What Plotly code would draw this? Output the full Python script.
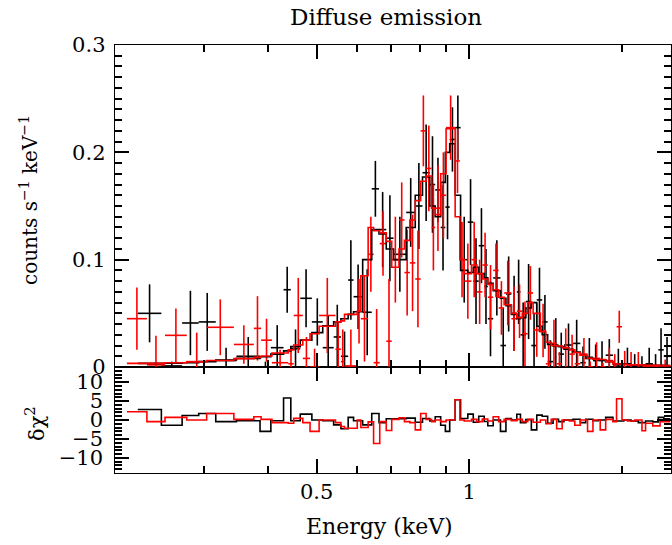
import numpy as np
import plotly.graph_objects as go

# ---------------- data (energies in keV, rates in counts/s/keV) ----------------
black_edges = [0.2218, 0.2469, 0.2713, 0.2925, 0.3161, 0.3472, 0.3865, 0.4060, 0.4301, 0.4445,
               0.4640, 0.4891, 0.5139, 0.5400, 0.5581, 0.5768, 0.5911, 0.6161, 0.6420, 0.6636,
               0.6858, 0.7088, 0.7507, 0.7823, 0.8085, 0.8356, 0.8566, 0.8781, 0.8970, 0.9149,
               0.9378, 0.9612, 0.9934, 1.0183, 1.0438, 1.0699, 1.0877, 1.1148, 1.1522, 1.1811,
               1.2107, 1.2409, 1.2616, 1.2930, 1.3256, 1.3587, 1.3926, 1.4275, 1.4632, 1.4997,
               1.5374, 1.6021, 1.6558, 1.6971, 1.7539, 1.7977, 1.8580, 1.9203, 2.0175, 2.0850,
               2.1552, 2.2273, 2.3018, 2.3600, 2.4191, 2.4920]
black_rate = [0.050, 0.001, 0.041, 0.042, 0.006,
              0.010, 0.000, 0.018, 0.072, 0.017,
              0.064, 0.042, 0.018, 0.028, 0.010,
              0.081, 0.0655, 0.051, 0.166, 0.128,
              0.120, 0.105, 0.144, 0.150, 0.181,
              0.170, 0.165, 0.130, 0.149, 0.212,
              0.223, 0.100, 0.135, 0.080, 0.113,
              0.075, 0.045, 0.083, 0.020, 0.068,
              0.050, 0.070, 0.030, 0.061, 0.020,
              0.0625, 0.042, 0.005, 0.0205, 0.012,
              0.0205, 0.022, 0.004, 0.009, 0.006,
              0.006, 0.011, 0.002, 0.003, 0.000,
              0.000, 0.003, 0.000, 0.016, 0.010]
black_err = [0.027, 0.004, 0.030, 0.027, 0.012,
             0.018, 0.005, 0.021, 0.0215, 0.018,
             0.027, 0.022, 0.030, 0.030, 0.023,
             0.037, 0.030, 0.040, 0.026, 0.035,
             0.040, 0.035, 0.032, 0.040, 0.045,
             0.045, 0.030, 0.040, 0.030, 0.030,
             0.030, 0.040, 0.040, 0.040, 0.035,
             0.035, 0.035, 0.035, 0.035, 0.035,
             0.035, 0.030, 0.030, 0.035, 0.030,
             0.030, 0.025, 0.020, 0.025, 0.020,
             0.020, 0.022, 0.015, 0.018, 0.015,
             0.018, 0.015, 0.015, 0.015, 0.012,
             0.010, 0.015, 0.012, 0.020, 0.018]
black_model = [0.0034, 0.0035, 0.0040, 0.0050, 0.0065,
               0.0080, 0.0095, 0.0120, 0.0150, 0.0190,
               0.0250, 0.0320, 0.0385, 0.0420, 0.0450,
               0.0490, 0.0515, 0.1000, 0.1280, 0.1240,
               0.1100, 0.1000, 0.1300, 0.1600, 0.1770,
               0.1500, 0.1400, 0.1720, 0.2000, 0.2080,
               0.1600, 0.0900, 0.0880, 0.0930, 0.0870,
               0.0830, 0.0780, 0.0710, 0.0640, 0.0570,
               0.0490, 0.0450, 0.0460, 0.0550, 0.0600,
               0.0380, 0.0300, 0.0210, 0.0196, 0.0190,
               0.0165, 0.0140, 0.0110, 0.0080, 0.0072,
               0.0068, 0.0050, 0.0030, 0.0025, 0.0020,
               0.0020, 0.0018, 0.0016, 0.0015, 0.0014]
black_resid = [2.76, -1.38, 1.2, 1.7, -0.43,
               -0.2, -3.0, -0.2, 5.8, -0.2,
               1.55, 0.0, -0.2, -1.3, -2.3,
               0.7, -0.2, -1.3, 1.7, -0.7,
               0.35, 0.35, 0.5, -0.6, 0.4,
               -0.26, 0.86, -1.4, -3.0, 0.0,
               5.35, 0.4, 1.55, -0.6, 1.0,
               -0.4, -1.5, 0.0, -3.0, 0.4,
               0.0, 1.5, -0.7, 0.1, -2.6,
               1.3, 1.0, -0.86, 0.2, -0.43,
               0.0, 0.2, -0.7, 0.2, -0.2,
               0.0, 0.7, -0.26, 0.0, -0.26,
               -0.7, -0.26, -0.5, 0.7, 0.35]

red_edges = [0.2111, 0.2312, 0.2510, 0.2771, 0.3033, 0.3432, 0.3758, 0.3884, 0.4080, 0.4394,
             0.4504, 0.4694, 0.4851, 0.5055, 0.5445, 0.5581, 0.5673, 0.6011, 0.6110, 0.6316,
             0.6474, 0.6658, 0.6858, 0.7030, 0.7266, 0.7448, 0.7634, 0.7823, 0.8017, 0.8218,
             0.8425, 0.8566, 0.8781, 0.9000, 0.9378, 0.9581, 0.9772, 1.0099, 1.0352, 1.0611,
             1.0877, 1.1148, 1.1428, 1.1715, 1.2107, 1.2409, 1.2720, 1.3038, 1.3364, 1.3810,
             1.4156, 1.4510, 1.4874, 1.5246, 1.5755, 1.6150, 1.6558, 1.7113, 1.7539, 1.8126,
             1.8580, 1.9203, 1.9522, 2.0010, 2.0512, 2.1200, 2.1910, 2.2273, 2.3018, 2.3788,
             2.4920]
red_rate = [0.045, 0.002, 0.0295, 0.005, 0.037,
            0.021, 0.036, 0.025, 0.004, 0.003,
            0.048, 0.008, 0.000, 0.048, 0.0165,
            0.005, 0.001, 0.052, 0.045, 0.105,
            0.004, 0.115, 0.024, 0.100, 0.137,
            0.088, 0.097, 0.082, 0.220, 0.185,
            0.130, 0.148, 0.160, 0.223, 0.192,
            0.100, 0.080, 0.100, 0.070, 0.095,
            0.065, 0.090, 0.055, 0.069, 0.045,
            0.052, 0.031, 0.069, 0.0345, 0.034,
            0.003, 0.022, 0.003, 0.018, 0.012,
            0.003, 0.012, 0.000, 0.008, 0.000,
            0.006, 0.002, 0.0375, 0.003, 0.002,
            0.002, 0.000, 0.000, 0.000, 0.001]
red_err = [0.029, 0.027, 0.025, 0.027, 0.026,
           0.018, 0.030, 0.020, 0.012, 0.013,
           0.035, 0.020, 0.017, 0.035, 0.025,
           0.030, 0.034, 0.030, 0.040, 0.035,
           0.050, 0.030, 0.058, 0.040, 0.035,
           0.040, 0.045, 0.045, 0.033, 0.040,
           0.040, 0.040, 0.040, 0.030, 0.030,
           0.035, 0.035, 0.035, 0.030, 0.030,
           0.030, 0.025, 0.025, 0.030, 0.030,
           0.025, 0.030, 0.025, 0.025, 0.025,
           0.020, 0.022, 0.011, 0.018, 0.018,
           0.010, 0.015, 0.005, 0.015, 0.004,
           0.012, 0.010, 0.015, 0.012, 0.012,
           0.012, 0.002, 0.003, 0.002, 0.006]
red_model = [0.0034, 0.0034, 0.0040, 0.0048, 0.0060,
             0.0078, 0.0090, 0.0102, 0.0130, 0.0160,
             0.0205, 0.0250, 0.0310, 0.0380, 0.0420,
             0.0430, 0.0490, 0.0520, 0.0850, 0.1300,
             0.1270, 0.1250, 0.1170, 0.0930, 0.1100,
             0.1180, 0.1370, 0.1550, 0.1730, 0.1780,
             0.1480, 0.1420, 0.1800, 0.2220, 0.1400,
             0.1000, 0.0870, 0.0950, 0.0870, 0.0820,
             0.0770, 0.0720, 0.0650, 0.0580, 0.0500,
             0.0460, 0.0500, 0.0600, 0.0500, 0.0330,
             0.0230, 0.0200, 0.0195, 0.0180, 0.0160,
             0.0135, 0.0110, 0.0080, 0.0072, 0.0070,
             0.0050, 0.0030, 0.0028, 0.0025, 0.0020,
             0.0020, 0.0018, 0.0017, 0.0015, 0.0014]
red_resid = [2.16, -0.43, 0.7, 0.0, 1.73,
             0.17, 0.86, 0.17, -0.7, -0.86,
             0.43, -0.7, -3.0, 0.0, -0.7,
             -1.7, -2.16, 0.0, -2.0, -0.5,
             -6.2, -0.43, -2.76, 0.17, 0.6,
             -0.43, -0.7, -2.6, 1.7, 0.17,
             -0.43, 0.0, -0.43, 0.0, 5.35,
             0.0, -0.26, 0.17, -0.43, 0.26,
             -0.26, 0.86, -0.43, 0.17, -0.17,
             0.17, -0.43, 0.17, -0.6, 0.0,
             -1.0, 0.17, -2.3, 0.0, -0.26,
             -1.4, 0.0, -3.0, 0.0, -2.6,
             0.17, -0.43, 5.6, 0.0, -0.26,
             0.0, -2.85, -0.86, -1.55, -0.43]

x_major = [0.5, 1]
x_major_text = ["0.5", "1"]
x_minor = [0.3, 0.4, 0.6, 0.7, 0.8, 0.9, 2]

FONT = "DejaVu Serif"
BLACK = "#000000"
RED = "#ff0000"

fig = go.Figure()


def add_dataset(edges, rate, err, color):
    e = np.array(edges)
    lo, hi = e[:-1], e[1:]
    cen = np.sqrt(lo * hi)
    fig.add_trace(go.Scatter(
        x=cen, y=rate, mode="markers", marker=dict(size=1, color=color, opacity=0),
        error_x=dict(type="data", symmetric=False, array=hi - cen, arrayminus=cen - lo,
                     width=0, thickness=1.6, color=color),
        error_y=dict(type="data", array=err, width=0, thickness=1.6, color=color),
        xaxis="x2", yaxis="y2", showlegend=False, hoverinfo="skip"))


def add_steps(edges, model, resid, color):
    fig.add_trace(go.Scatter(
        x=edges, y=list(model) + [model[-1]], mode="lines", line=dict(color=color, width=1.6, shape="hv"),
        xaxis="x2", yaxis="y2", showlegend=False, hoverinfo="skip"))
    fig.add_trace(go.Scatter(
        x=edges, y=list(resid) + [resid[-1]], mode="lines", line=dict(color=color, width=1.6, shape="hv"),
        xaxis="x", yaxis="y", showlegend=False, hoverinfo="skip"))


add_dataset(black_edges, black_rate, black_err, BLACK)
add_dataset(red_edges, red_rate, red_err, RED)
add_steps(black_edges, black_model, black_resid, BLACK)
add_steps(red_edges, red_model, red_resid, RED)

split = 106 / 428
xrange_ = [np.log10(0.2), np.log10(2.5)]
TICKC = "#000"
axis_common = dict(showline=True, linecolor="#000", linewidth=1.2, mirror="allticks",
                   ticks="inside", tickcolor=TICKC, tickwidth=1.5, showgrid=False, zeroline=False,
                   tickfont=dict(family=FONT, size=21, color="#000"))
minor_x = dict(tickmode="array", tickvals=x_minor, ticks="inside", ticklen=7,
               tickcolor=TICKC, tickwidth=1.5, showgrid=False)

fig.update_layout(
    width=672, height=545, autosize=False,
    margin=dict(l=115, r=1, t=45, b=72),
    paper_bgcolor="white", plot_bgcolor="white",
    font=dict(family=FONT, color="#000"),
    xaxis=dict(type="log", range=xrange_, domain=[0, 1], anchor="y",
               tickmode="array", tickvals=x_major, ticktext=x_major_text, ticklen=14,
               minor=minor_x, **axis_common),
    yaxis=dict(range=[-14, 14], domain=[0, split], anchor="x",
               tickmode="linear", tick0=0, dtick=5, ticklen=14, ticksuffix="\u00a0",
               minor=dict(dtick=1, ticks="inside", ticklen=7,
                          tickcolor=TICKC, tickwidth=1.5, showgrid=False),
               **axis_common),
    xaxis2=dict(type="log", range=xrange_, domain=[0, 1], anchor="y2", matches="x",
                tickmode="array", tickvals=x_major, ticktext=x_major_text, ticklen=14,
                showticklabels=False, minor=minor_x, **axis_common),
    yaxis2=dict(range=[0, 0.3], domain=[split, 1], anchor="x2",
                tickmode="linear", tick0=0, dtick=0.1, ticklen=14, ticksuffix="\u2009",
                minor=dict(dtick=0.01, ticks="inside", ticklen=7,
                           tickcolor=TICKC, tickwidth=1.5, showgrid=False),
                **axis_common),
    annotations=[
        dict(text="Diffuse emission", x=(386 - 115) / 556, y=(473 - 17) / 428, xref="paper", yref="paper",
             showarrow=False, xanchor="center", yanchor="middle", font=dict(family=FONT, size=23)),
        dict(text="Energy (keV)", x=(379 - 115) / 556, y=(473 - 526) / 428, xref="paper", yref="paper",
             showarrow=False, xanchor="center", yanchor="middle", font=dict(family=FONT, size=22)),
        dict(text="counts s<sup>\u22121</sup> keV<sup>\u22121</sup>", x=(29 - 115) / 556, y=(473 - 200) / 428,
             xref="paper", yref="paper", textangle=-90, showarrow=False,
             xanchor="center", yanchor="middle", font=dict(family=FONT, size=20)),
        dict(text="\u03b4\u03c7<sup>2</sup>", x=(35 - 115) / 556, y=(473 - 424) / 428,
             xref="paper", yref="paper", textangle=-90, showarrow=False,
             xanchor="center", yanchor="middle", font=dict(family=FONT, size=21)),
    ],
)

fig.write_html("out.html", config={"displayModeBar": False},
               post_script="document.body.style.margin='0';document.documentElement.style.overflow='hidden';")
